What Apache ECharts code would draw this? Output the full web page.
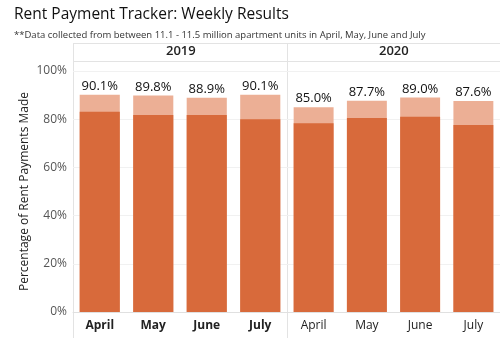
<!DOCTYPE html>
<html><head><meta charset="utf-8">
<script src="https://cdn.jsdelivr.net/npm/echarts@6/dist/echarts.min.js"></script>
<style>html,body{margin:0;padding:0;background:#fff}#c{width:500px;height:338px}</style>
</head><body><div id="c"></div>
<script>
var months = ['April','May','June','July'];
var years = ['2019','2020'];
var yTicks = [0,20,40,60,80,100];
var total2019 = [90.1, 89.8, 88.9, 90.1];
var paid2019  = [83.1, 81.7, 81.7, 80.0];
var total2020 = [85.0, 87.7, 89.0, 87.6];
var paid2020  = [78.3, 80.5, 81.0, 77.6];

var DARK = '#D86A3B', LIGHT = '#ECAF95';
var FONT = '"Open Sans", "Noto Sans", sans-serif';
var chart = echarts.init(document.getElementById('c'), null, {renderer:'canvas'});
var grids = [
  {left:73, width:214, top:71, bottom:26},
  {left:287, width:213, top:71, bottom:26}
];
function xAx(i, bold){
  return {type:'category', gridIndex:i, data:months,
    axisLine:{show:true, lineStyle:{color:'#e0e0e0'}}, axisTick:{show:false},
    axisLabel:{color:'#222', fontSize:12, fontFamily:FONT, fontWeight:bold?'bold':'normal', margin:8}};
}
function yAx(i, show){
  return {type:'value', gridIndex:i, min:yTicks[0], max:yTicks[yTicks.length-1], interval:20,
    axisLine:{show:false}, axisTick:{show:false},
    splitLine:{lineStyle:{color:'#f1f1f1'}},
    axisLabel:{show:show, formatter:'{value}%', color:'#555', fontSize:12, fontFamily:FONT, margin:6},
    name: show ? 'Percentage of Rent Payments Made' : '', nameLocation:'middle', nameGap:42,
    nameTextStyle:{color:'#222', fontSize:12, fontFamily:FONT}};
}
function series(i, total, paid){
  return [
    {type:'bar', xAxisIndex:i, yAxisIndex:i, data:total, barCategoryGap:'25%', barGap:'-100%',
     itemStyle:{color:LIGHT}, silent:true,
     label:{show:true, position:'top', distance:2, formatter:function(p){return p.value.toFixed(1)+'%';},
       color:'#111', fontSize:13, fontFamily:FONT}},
    {type:'bar', xAxisIndex:i, yAxisIndex:i, data:paid, barCategoryGap:'25%', barGap:'-100%',
     itemStyle:{color:DARK}, silent:true}
  ];
}
chart.setOption({
  animation:false,
  title:[
    {text:'Rent Payment Tracker: Weekly Results', left:9, top:2,
     textStyle:{fontSize:15.5, fontWeight:500, color:'#111', fontFamily:FONT}},
    {text:'**Data collected from between 11.1 - 11.5 million apartment units in April, May, June and July', left:9, top:25,
     textStyle:{fontSize:9.5, fontWeight:'normal', color:'#333', fontFamily:FONT}}
  ],
  grid:grids,
  xAxis:[xAx(0,true), xAx(1,false)],
  yAxis:[yAx(0,true), yAx(1,false)],
  series:series(0,total2019,paid2019).concat(series(1,total2020,paid2020)),
  graphic:[
    {type:'line', shape:{x1:73,y1:43.5,x2:500,y2:43.5}, style:{stroke:'#e3e3e3',lineWidth:1}},
    {type:'line', shape:{x1:73,y1:61.5,x2:500,y2:61.5}, style:{stroke:'#e3e3e3',lineWidth:1}},
    {type:'line', shape:{x1:73.5,y1:43,x2:73.5,y2:338}, style:{stroke:'#e3e3e3',lineWidth:1}},
    {type:'line', shape:{x1:287.5,y1:43,x2:287.5,y2:338}, style:{stroke:'#e3e3e3',lineWidth:1}},
    {type:'text', left:180-14, top:45, style:{text:years[0], fill:'#222', font:'600 13px '+FONT}},
    {type:'text', left:393-14, top:45, style:{text:years[1], fill:'#222', font:'600 13px '+FONT}}
  ]
});
</script></body></html>
